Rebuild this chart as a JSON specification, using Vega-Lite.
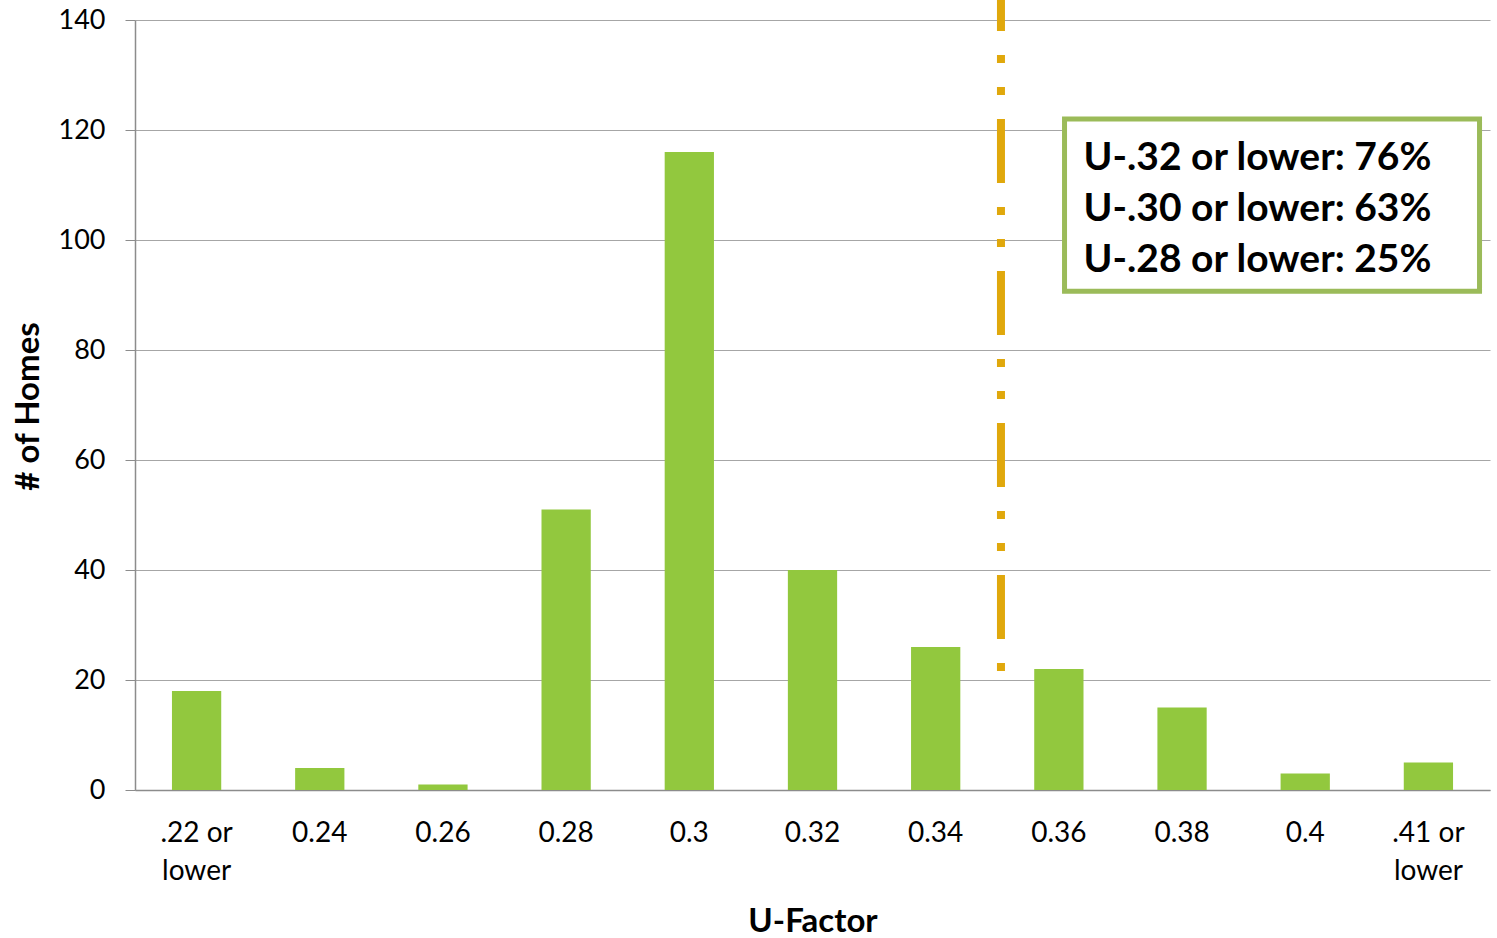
{
  "$schema": "https://vega.github.io/schema/vega-lite/v6.json",
  "width": 1355,
  "height": 770,
  "autosize": {"type": "none"},
  "padding": {"left": 135, "top": 20, "right": 7, "bottom": 148},
  "background": "white",
  "config": {"view": {"stroke": null}, "font": "Lato"},
  "datasets": {
    "bars": [
      {"u": ".22 or lower", "homes": 18},
      {"u": "0.24", "homes": 4},
      {"u": "0.26", "homes": 1},
      {"u": "0.28", "homes": 51},
      {"u": "0.3", "homes": 116},
      {"u": "0.32", "homes": 40},
      {"u": "0.34", "homes": 26},
      {"u": "0.36", "homes": 22},
      {"u": "0.38", "homes": 15},
      {"u": "0.4", "homes": 3},
      {"u": ".41 or lower", "homes": 5}
    ],
    "marker": [{"pos": 7.03, "top": 143.64, "bottom": 21.6}],
    "box": [{"x1": 7.546, "x2": 10.915, "y1": 122, "y2": 90.7}],
    "notes": [
      {"pos": 7.7, "val": 112.7, "text": "U-.32 or lower: 76%"},
      {"pos": 7.7, "val": 103.4, "text": "U-.30 or lower: 63%"},
      {"pos": 7.7, "val": 94.1, "text": "U-.28 or lower: 25%"}
    ]
  },
  "layer": [
    {
      "data": {"name": "bars"},
      "mark": {"type": "bar", "color": "#92C83E", "width": {"band": 0.4}},
      "encoding": {
        "x": {
          "field": "u", "type": "nominal", "sort": null,
          "scale": {"paddingInner": 0, "paddingOuter": 0},
          "axis": {
            "title": "U-Factor", "titleFont": "Lato", "titleFontSize": 33, "titleFontWeight": "bold", "titleColor": "#000",
            "titleY": 131, "titleBaseline": "middle",
            "labelAngle": 0, "labelFontSize": 28, "labelColor": "#000", "labelPadding": 29, "labelLineHeight": 38,
            "labelExpr": "datum.label == '.22 or lower' ? ['.22 or', 'lower'] : datum.label == '.41 or lower' ? ['.41 or', 'lower'] : datum.label",
            "ticks": false, "domainColor": "#8C8C8C", "domainWidth": 1.5, "grid": false
          }
        },
        "y": {
          "field": "homes", "type": "quantitative",
          "scale": {"domain": [0, 140], "nice": false},
          "axis": {
            "title": "# of Homes", "titleFontSize": 33, "titleFontWeight": "bold", "titleColor": "#000",
            "titleX": -107, "titleY": 386, "titleBaseline": "middle", "titleAngle": -90,
            "values": [0, 20, 40, 60, 80, 100, 120, 140],
            "labelFontSize": 27, "labelColor": "#000", "labelPadding": 20,
            "tickSize": 10, "tickColor": "#8C8C8C", "domainColor": "#8C8C8C", "domainWidth": 1.5,
            "grid": true, "gridColor": "#A6A6A6", "gridWidth": 1.2
          }
        }
      }
    },
    {
      "data": {"name": "marker"},
      "mark": {"type": "rule", "color": "#E0A80C", "strokeWidth": 8, "strokeCap": "butt", "strokeDash": [64, 24, 8, 24, 8, 24], "strokeDashOffset": 33},
      "encoding": {
        "x": {"field": "pos", "type": "quantitative", "scale": {"domain": [0, 11], "nice": false, "zero": false}, "axis": null},
        "y": {"field": "top", "type": "quantitative"},
        "y2": {"field": "bottom"}
      }
    },
    {
      "data": {"name": "box"},
      "mark": {"type": "rect", "fill": "white", "stroke": "#9BBB59", "strokeWidth": 5},
      "encoding": {
        "x": {"field": "x1", "type": "quantitative", "scale": {"domain": [0, 11], "nice": false, "zero": false}, "axis": null},
        "x2": {"field": "x2"},
        "y": {"field": "y1", "type": "quantitative"},
        "y2": {"field": "y2"}
      }
    },
    {
      "data": {"name": "notes"},
      "mark": {"type": "text", "align": "left", "baseline": "alphabetic", "fontSize": 39, "fontWeight": "bold", "font": "Lato", "color": "#000"},
      "encoding": {
        "x": {"field": "pos", "type": "quantitative", "scale": {"domain": [0, 11], "nice": false, "zero": false}, "axis": null},
        "y": {"field": "val", "type": "quantitative"},
        "text": {"field": "text"}
      }
    }
  ],
  "resolve": {"scale": {"x": "independent"}}
}
